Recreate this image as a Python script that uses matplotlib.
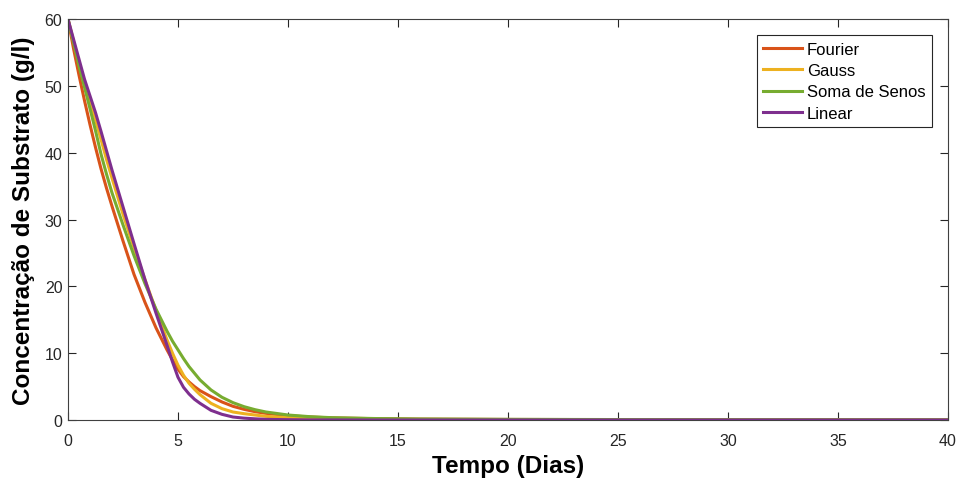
import matplotlib
matplotlib.use("Agg")
import matplotlib.pyplot as plt
import numpy as np

plt.rcParams['font.family'] = ['Liberation Sans', 'DejaVu Sans']

# tempo (dias)
t = [0, 0.25, 0.5, 0.75, 1, 1.25, 1.5, 1.75, 2, 2.5, 3, 3.5, 4, 4.5, 4.75,
     5, 5.25, 5.5, 5.75, 6, 6.5, 7, 7.5, 8, 8.5, 9, 10, 11, 12, 14, 16, 20,
     25, 30, 40]

fourier = [60, 55.6, 51.6, 47.8, 44.2, 40.8, 37.6, 34.7, 32.0, 26.8, 21.8,
           17.6, 13.8, 10.5, 9.0, 7.6, 6.5, 5.7, 5.0, 4.4, 3.5, 2.7, 2.05,
           1.6, 1.25, 1.0, 0.65, 0.45, 0.32, 0.2, 0.14, 0.09, 0.06, 0.04, 0.02]
gauss = [60, 56.7, 53.5, 50.6, 47.8, 44.9, 42.0, 39.0, 36.2, 30.8, 25.8,
         21.0, 16.4, 12.0, 10.0, 8.2, 6.7, 5.5, 4.6, 3.8, 2.5, 1.7, 1.2,
         0.95, 0.75, 0.55, 0.35, 0.22, 0.15, 0.07, 0.04, 0.02, 0.01, 0, 0]
soma_senos = [60, 56.5, 53.0, 49.8, 46.6, 43.3, 39.8, 36.8, 34.0, 29.2, 24.6,
              20.4, 16.6, 13.3, 11.8, 10.5, 9.2, 8.0, 7.0, 6.0, 4.5, 3.4, 2.6,
              2.0, 1.55, 1.2, 0.75, 0.5, 0.35, 0.22, 0.15, 0.1, 0.07, 0.05,
              0.03]
linear = [60, 57.0, 54.0, 51.0, 48.5, 46.0, 43.2, 40.3, 37.4, 31.9, 26.4,
          21.0, 16.0, 11.2, 8.7, 6.4, 4.9, 3.9, 3.1, 2.5, 1.45, 0.85, 0.45,
          0.28, 0.18, 0.1, 0.05, 0.02, 0.01, 0, 0, 0, 0, 0, 0]

series = [('Fourier', fourier, '#D95319'),
          ('Gauss', gauss, '#EDB120'),
          ('Soma de Senos', soma_senos, '#77AC30'),
          ('Linear', linear, '#7E2F8E')]

fig = plt.figure(figsize=(9.59, 4.81), dpi=100)
ax = fig.add_axes([0.0709, 0.1247, 0.9176, 0.8337])

for name, y, c in series:
    ax.plot(t, y, color=c, lw=2.2, label=name, solid_joinstyle='round')

ax.set_xlim(0, 40)
ax.set_ylim(0, 60)
ax.set_xticks(np.arange(0, 41, 5))
ax.set_yticks(np.arange(0, 61, 10))
ax.tick_params(direction='in', length=6, width=0.8, top=True, right=True,
               labelsize=11.5, colors='#262626', labelcolor='#262626', pad=4)
ax.tick_params(axis='x', pad=9)
for s in ax.spines.values():
    s.set_color('#404040')
    s.set_linewidth(0.8)

ax.set_xlabel('Tempo (Dias)', fontsize=17.5, fontweight='bold', labelpad=5)
ax.set_ylabel('Concentração de Substrato (g/l)', fontsize=17.5,
              fontweight='bold', labelpad=7)

leg = ax.legend(loc='upper right', bbox_to_anchor=(0.9818, 0.960),
                fontsize=12, fancybox=False, framealpha=1,
                edgecolor='#262626', handlelength=2.3, handletextpad=0.3,
                borderpad=0.4, labelspacing=0.38, borderaxespad=0)
leg.get_frame().set_linewidth(0.8)

fig.savefig('out.png', dpi=100)
